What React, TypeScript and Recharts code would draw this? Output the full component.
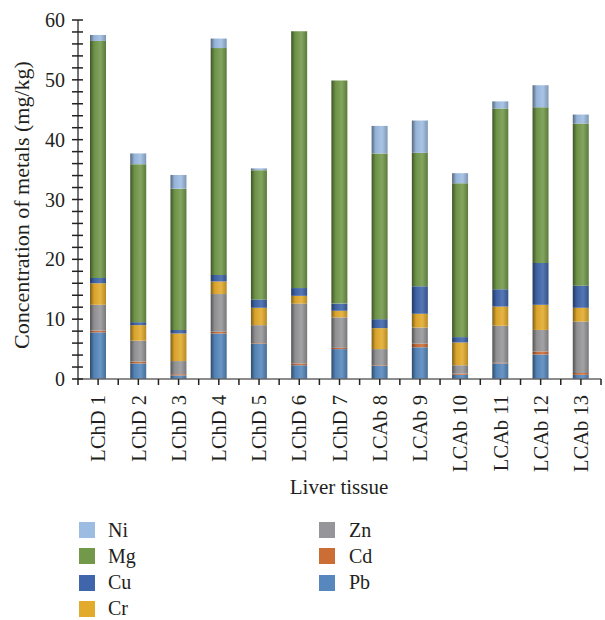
import { Bar, BarChart, Legend, XAxis, YAxis } from "recharts";

const CATEGORIES = [
  "LChD 1", "LChD 2", "LChD 3", "LChD 4", "LChD 5", "LChD 6", "LChD 7",
  "LCAb 8", "LCAb 9", "LCAb 10", "LCAb 11", "LCAb 12", "LCAb 13",
];

// mg/kg, stacked bottom to top: Pb, Cd, Zn, Cr, Cu, Mg, Ni
const PB = [7.8, 2.6, 0.6, 7.6, 5.9, 2.3, 5.0, 2.2, 5.3, 0.7, 2.6, 4.1, 0.7];
const CD = [0.3, 0.3, 0.2, 0.3, 0.1, 0.3, 0.2, 0.1, 0.6, 0.2, 0.1, 0.5, 0.3];
const ZN = [4.3, 3.5, 2.2, 6.3, 3.0, 10.0, 5.1, 2.7, 2.7, 1.4, 6.2, 3.6, 8.6];
const CR = [3.6, 2.6, 4.6, 2.1, 2.9, 1.3, 1.1, 3.5, 2.3, 3.8, 3.2, 4.2, 2.3];
const CU = [0.9, 0.5, 0.6, 1.1, 1.4, 1.3, 1.2, 1.5, 4.6, 0.9, 2.9, 7.0, 3.7];
const MG = [39.6, 26.4, 23.6, 37.9, 21.6, 42.9, 37.3, 27.7, 22.3, 25.7, 30.2, 26.0, 27.1];
const NI = [1.0, 1.8, 2.3, 1.6, 0.3, 0, 0, 4.6, 5.4, 1.7, 1.2, 3.7, 1.5];

const Y_TICKS = [0, 2, 4, 6, 8, 10, 12, 14, 16, 18, 20, 22, 24, 26, 28, 30, 32, 34, 36, 38, 40, 42, 44, 46, 48, 50, 52, 54, 56, 58, 60];

const STACK = ["Pb", "Cd", "Zn", "Cr", "Cu", "Mg", "Ni"];
const LEGEND_ORDER = ["Ni", "Mg", "Cu", "Cr", "Zn", "Cd", "Pb"];

const COLORS: Record<string, string> = {
  Ni: "#9dbce2",
  Mg: "#72994a",
  Cu: "#3f65aa",
  Cr: "#e3ab2c",
  Zn: "#96969a",
  Cd: "#cd6d36",
  Pb: "#5688bd",
};

const data = CATEGORIES.map((name, i) => ({
  name,
  Pb: PB[i],
  Cd: CD[i],
  Zn: ZN[i],
  Cr: CR[i],
  Cu: CU[i],
  Mg: MG[i],
  Ni: NI[i],
}));

const FONT = "'Liberation Serif', 'DejaVu Serif', serif";
const TEXT = "#231f20";
const W = 605;
const H = 620;
const LEFT = 78;
const RIGHT = 4;
const BAND = (W - LEFT - RIGHT) / CATEGORIES.length;

function shade(hex: string, f: number) {
  const n = parseInt(hex.slice(1), 16);
  const ch = [(n >> 16) & 255, (n >> 8) & 255, n & 255].map((c) =>
    Math.round(f < 1 ? c * f : c + (255 - c) * (f - 1))
  );
  return `rgb(${ch.join(",")})`;
}

function YTick(props: any) {
  const { x, y, payload } = props;
  const major = payload.value % 10 === 0;
  return (
    <g>
      <line x1={x - 6} x2={x + 5} y1={y} y2={y} stroke="#222" strokeWidth={1.5} />
      {major && (
        <text x={x - 13} y={y} dy="0.35em" textAnchor="end" fontSize={20} fontFamily={FONT} fill={TEXT}>
          {payload.value}
        </text>
      )}
    </g>
  );
}

function XTick(props: any) {
  const { x, y, payload, index } = props;
  const last = index === CATEGORIES.length - 1;
  return (
    <g>
      <line x1={x} x2={x} y1={y} y2={y + 6} stroke="#222" strokeWidth={1.5} />
      <line x1={x - BAND / 2} x2={x - BAND / 2} y1={y} y2={y + 6} stroke="#222" strokeWidth={1.5} />
      {last && <line x1={x + BAND / 2} x2={x + BAND / 2} y1={y} y2={y + 6} stroke="#222" strokeWidth={1.5} />}
      <text
        x={x}
        y={y + 16}
        dy="0.35em"
        textAnchor="end"
        transform={`rotate(-90, ${x}, ${y + 16})`}
        fontSize={20.5}
        fontFamily={FONT}
        fill={TEXT}
      >
        {payload.value}
      </text>
    </g>
  );
}

function renderLegend() {
  return (
    <div style={{ position: "relative", width: W, height: 110, fontFamily: FONT, fontSize: 20, color: TEXT }}>
      {LEGEND_ORDER.map((k, i) => {
        const col = i < 4 ? 0 : 1;
        const row = i < 4 ? i : i - 4;
        return (
          <div
            key={k}
            style={{
              position: "absolute",
              left: col ? 319 : 79,
              top: row * 26.3,
              height: 26,
              display: "flex",
              alignItems: "center",
            }}
          >
            <span style={{ width: 16, height: 16, background: COLORS[k], display: "inline-block" }} />
            <span style={{ marginLeft: col ? 14 : 13 }}>{k}</span>
          </div>
        );
      })}
    </div>
  );
}

export default function App() {
  return (
    <div style={{ position: "absolute", left: 0, top: 0, width: W, height: H, background: "#fff" }}>
      <BarChart width={W} height={H} data={data} margin={{ top: 20, right: RIGHT, left: 0, bottom: 0 }} barSize={16}>
        <defs>
          {STACK.map((k) => (
            <linearGradient key={k} id={`grad-${k}`} x1="0" y1="0" x2="1" y2="0">
              <stop offset="0%" stopColor={shade(COLORS[k], 0.55)} />
              <stop offset="25%" stopColor={shade(COLORS[k], 0.95)} />
              <stop offset="65%" stopColor={shade(COLORS[k], 1.12)} />
              <stop offset="100%" stopColor={shade(COLORS[k], 0.8)} />
            </linearGradient>
          ))}
        </defs>
        <XAxis
          dataKey="name"
          height={241}
          interval={0}
          tickSize={0}
          tickMargin={0}
          tickLine={false}
          axisLine={{ stroke: "#666", strokeWidth: 1.5 }}
          tick={<XTick />}
          label={{
            content: () => (
              <text x={339} y={487} dy="0.35em" textAnchor="middle" fontSize={21} fontFamily={FONT} fill={TEXT}>
                Liver tissue
              </text>
            ),
          }}
        />
        <YAxis
          width={LEFT}
          domain={[0, 60]}
          ticks={Y_TICKS}
          interval={0}
          tickSize={0}
          tickMargin={0}
          tickLine={false}
          axisLine={{ stroke: "#444", strokeWidth: 1.5 }}
          tick={<YTick />}
          label={{
            content: () => (
              <text
                x={21}
                y={205}
                dy="0.35em"
                textAnchor="middle"
                transform="rotate(-90, 21, 205)"
                fontSize={22}
                fontFamily={FONT}
                fill={TEXT}
              >
                Concentration of metals (mg/kg)
              </text>
            ),
          }}
        />
        {STACK.map((k) => (
          <Bar key={k} dataKey={k} name={k} stackId="a" fill={`url(#grad-${k})`} isAnimationActive={false} />
        ))}
        <Legend
          layout="vertical"
          verticalAlign="middle"
          align="center"
          content={renderLegend}
          wrapperStyle={{ left: 0, top: 517, width: W }}
        />
      </BarChart>
    </div>
  );
}
